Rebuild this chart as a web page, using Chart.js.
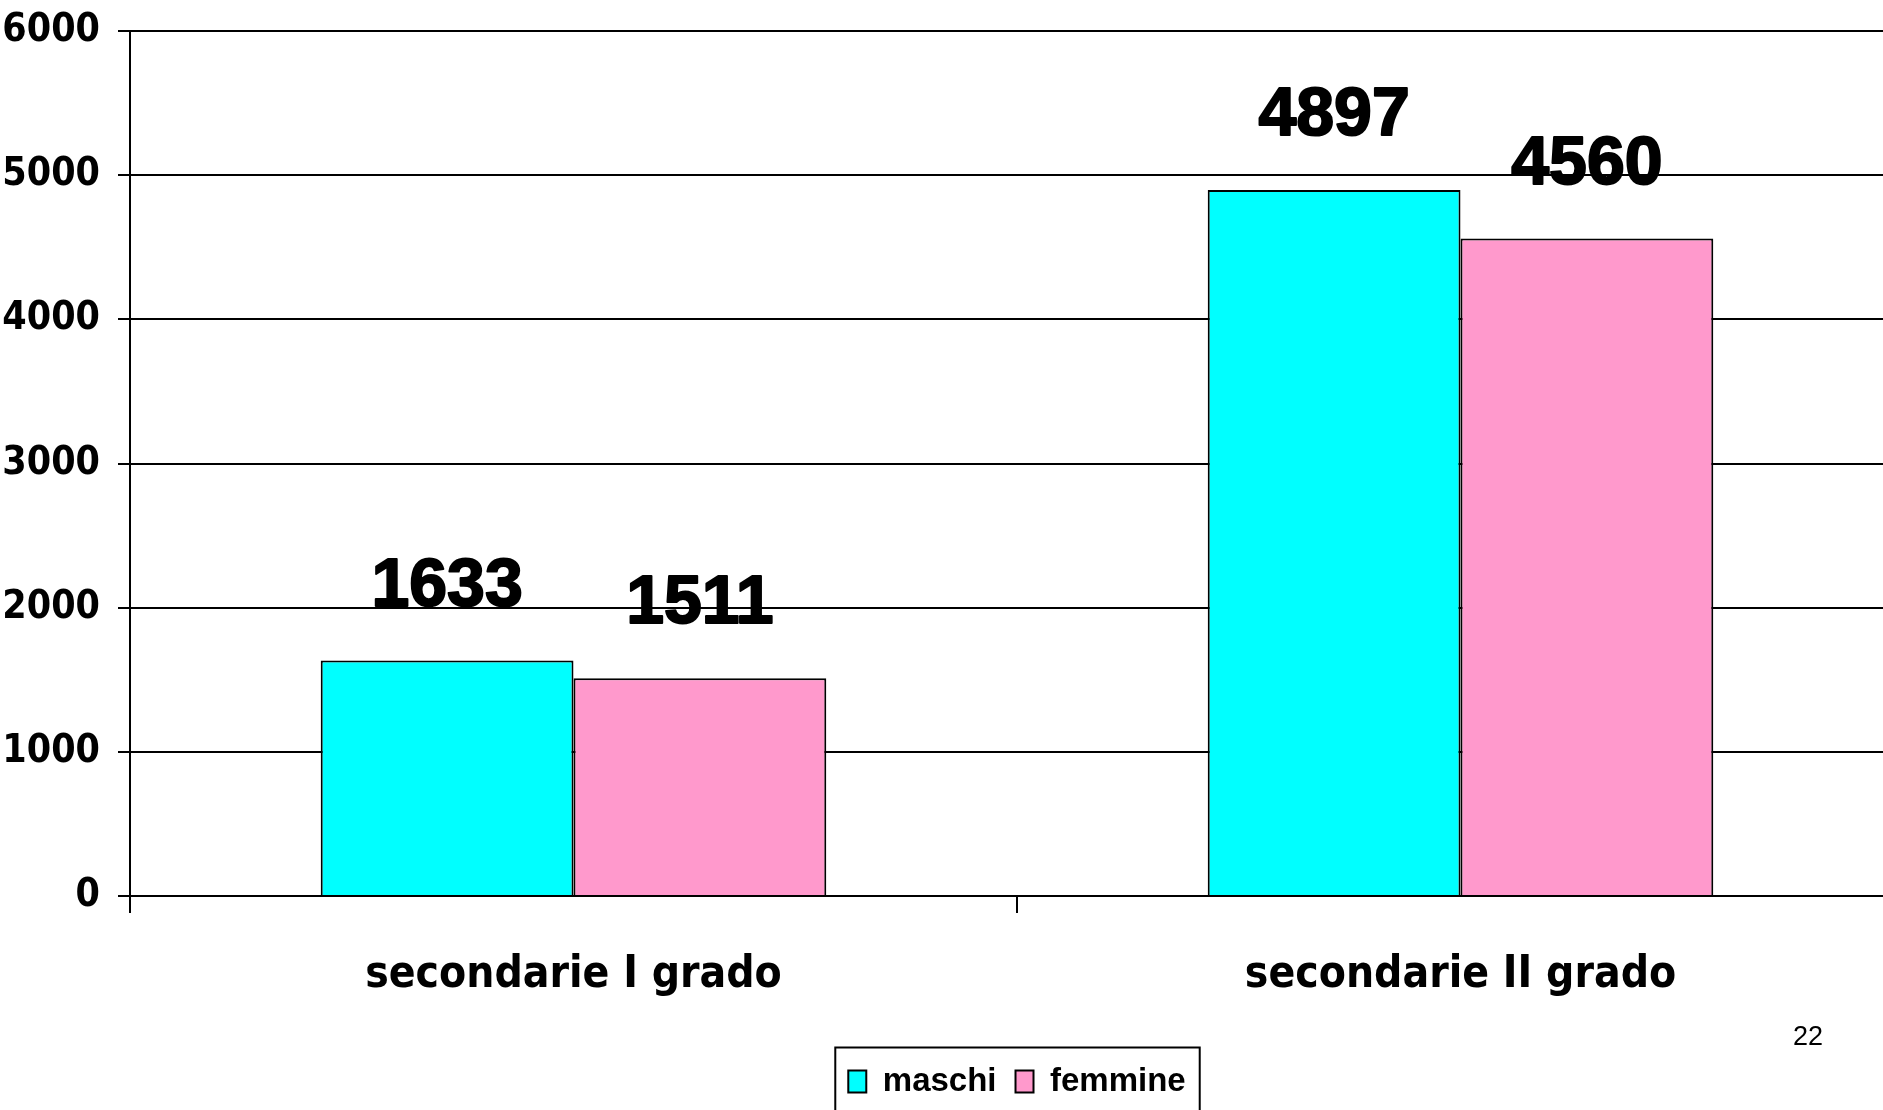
<!DOCTYPE html>
<html>
<head>
<meta charset="utf-8">
<script src="https://cdn.jsdelivr.net/npm/chart.js@4.4.1/dist/chart.umd.min.js"></script>
<style>
  html, body { margin: 0; padding: 0; background: #fff; overflow: hidden; }
  #wrap { position: relative; width: 1904px; height: 1140px; }
  #pagina { position: absolute; left: 1793px; top: 1021px; font: 27px "Liberation Sans", Arial, sans-serif; color: #000; }
</style>
</head>
<body>
<div id="wrap">
  <canvas id="grafico-scuole"></canvas>
  <div id="pagina">22</div>
</div>
<script>
// iscritti per grado di scuola
const categorie = ["secondarie I grado", "secondarie II grado"];
const maschi = [1633, 4897];
const femmine = [1511, 4560];
const assey = { min: 0, max: 6000, passo: 1000 };

const fontStretto = "'DejaVu Sans Condensed', 'Liberation Sans Narrow', Roboto, sans-serif";
const fontArial = "'Liberation Sans', Arial, sans-serif";

// valori sopra le barre
const etichette = {
  id: "etichette",
  afterDatasetsDraw(chart) {
    const ctx = chart.ctx;
    ctx.save();
    ctx.font = "bold 68px " + fontArial;
    ctx.textAlign = "center";
    ctx.textBaseline = "alphabetic";
    ctx.fillStyle = "#000";
    ctx.strokeStyle = "#000";
    ctx.lineWidth = 2;
    ctx.lineJoin = "round";
    chart.data.datasets.forEach((ds, i) => {
      chart.getDatasetMeta(i).data.forEach((bar, j) => {
        const t = String(ds.data[j]);
        ctx.strokeText(t, bar.x, bar.y - 55);
        ctx.fillText(t, bar.x, bar.y - 55);
      });
    });
    ctx.restore();
  },
};

// cornice attorno alla legenda
const cornice = {
  id: "cornice",
  afterDraw(chart) {
    const lg = chart.legend;
    if (!lg || !lg.legendHitBoxes || !lg.legendHitBoxes.length) return;
    const hb = lg.legendHitBoxes;
    const left = Math.min(...hb.map((b) => b.left)) - 13;
    const right = Math.max(...hb.map((b) => b.left + b.width)) + 14;
    const mid = hb[0].top + hb[0].height / 2;
    const top = mid - 34;
    const ctx = chart.ctx;
    ctx.save();
    ctx.strokeStyle = "#000";
    ctx.lineWidth = 2;
    ctx.strokeRect(left, top, right - left, chart.height - top + 20);
    ctx.restore();
  },
};

new Chart(document.getElementById("grafico-scuole"), {
  type: "bar",
  data: {
    labels: categorie,
    datasets: [
      {
        label: "maschi",
        data: maschi,
        backgroundColor: "#00FFFF",
        borderColor: "#000",
        borderWidth: 2,
        categoryPercentage: 0.57,
        barPercentage: 1.0,
      },
      {
        label: "femmine",
        data: femmine,
        backgroundColor: "#FF99CC",
        borderColor: "#000",
        borderWidth: 2,
        categoryPercentage: 0.57,
        barPercentage: 1.0,
      },
    ],
  },
  options: {
    responsive: true,
    maintainAspectRatio: false,
    animation: false,
    layout: {
      padding: { top: 31, right: 0, bottom: 32, left: 0 },
    },
    plugins: {
      tooltip: { enabled: false },
      legend: {
        position: "bottom",
        fullSize: false,
        labels: {
          color: "#000",
          boxWidth: 18,
          boxHeight: 22,
          padding: 19,
          font: { family: fontArial, size: 33, weight: "bold" },
        },
      },
    },
    scales: {
      x: {
        grid: {
          offset: true,
          drawOnChartArea: false,
          drawTicks: true,
          tickLength: 17,
          color: "#000",
          lineWidth: 2,
        },
        border: { display: true, color: "#000", width: 2 },
        ticks: {
          color: "#000",
          padding: 36,
          maxRotation: 0,
          font: { family: fontStretto, size: 44, weight: "bold" },
        },
        afterFit(scale) {
          scale.height = 150;
        },
      },
      y: {
        min: assey.min,
        max: assey.max,
        ticks: {
          stepSize: assey.passo,
          color: "#000",
          padding: 18,
          font: { family: fontStretto, size: 39, weight: "bold", lineHeight: 0.6 },
          callback: (v) => String(v),
        },
        grid: { color: "#000", lineWidth: 2, tickLength: 12 },
        border: { display: true, color: "#000", width: 2 },
        afterFit(scale) {
          scale.width = 130;
        },
      },
    },
  },
  plugins: [etichette, cornice],
});
</script>
</body>
</html>
